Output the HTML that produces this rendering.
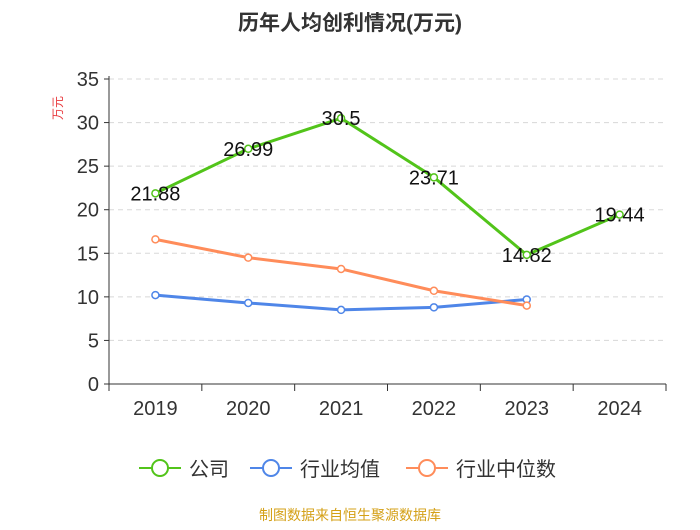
<!DOCTYPE html>
<html><head><meta charset="utf-8"><style>
body{margin:0;background:#fff;font-family:"Liberation Sans","Noto Sans CJK SC",sans-serif}
</style></head><body>
<svg id="c" width="700" height="525" xmlns="http://www.w3.org/2000/svg" font-family="Liberation Sans, Noto Sans CJK SC, sans-serif">
<text x="350" y="30" text-anchor="middle" font-size="21" font-weight="bold" fill="#333">历年人均创利情况(万元)</text>
<text x="62" y="108" font-size="12" fill="#e8363a" transform="rotate(-90 62 108)" text-anchor="middle">万元</text>
<g id="grid"></g><g id="axes"></g><g id="series"></g>
<g>
<g><line x1="139" y1="468" x2="181" y2="468" stroke="#52c41a" stroke-width="2"/><circle cx="160" cy="468" r="8" fill="#fff" stroke="#52c41a" stroke-width="2"/><text x="189" y="476" font-size="20" fill="#333">公司</text></g>
<g><line x1="250" y1="468" x2="292" y2="468" stroke="#4f86e8" stroke-width="2"/><circle cx="271" cy="468" r="8" fill="#fff" stroke="#4f86e8" stroke-width="2"/><text x="300" y="476" font-size="20" fill="#333">行业均值</text></g>
<g><line x1="406" y1="468" x2="448" y2="468" stroke="#ff8c5a" stroke-width="2"/><circle cx="427" cy="468" r="8" fill="#fff" stroke="#ff8c5a" stroke-width="2"/><text x="456" y="476" font-size="20" fill="#333">行业中位数</text></g>
</g>
<text x="350" y="520" text-anchor="middle" font-size="14" fill="#d4a017">制图数据来自恒生聚源数据库</text>
</svg>
<script>
const categories=["2019","2020","2021","2022","2023","2024"];
const company=[21.88,26.99,30.5,23.71,14.82,19.44];
const industryAvg=[10.2,9.3,8.5,8.8,9.7];
const industryMedian=[16.6,14.5,13.2,10.7,9.0];
const yTicks=[0,5,10,15,20,25,30,35];
const L=109,R=666,Y0=384,Y35=79;
const bw=(R-L)/categories.length;
const x=i=>L+bw*(i+0.5);
const y=v=>Y0-(v/35)*(Y0-Y35);
const NS="http://www.w3.org/2000/svg";
function mk(t,a,p){const e=document.createElementNS(NS,t);for(const k in a)e.setAttribute(k,a[k]);p.appendChild(e);return e;}
const grid=document.getElementById('grid'),axes=document.getElementById('axes'),ser=document.getElementById('series');
yTicks.forEach(v=>{
 if(v>0){const g=mk('line',{x1:L,x2:R,y1:y(v),y2:y(v),stroke:'#d8d8d8','stroke-dasharray':'5,4'},grid);
 
 }
 mk('line',{x1:L-5,x2:L,y1:y(v),y2:y(v),stroke:'#333'},axes);
 const t=mk('text',{x:L-10,y:y(v)+7,'text-anchor':'end','font-size':20,fill:'#333'},axes);t.textContent=v;
 
 
});
mk('line',{x1:L,x2:L,y1:Y35-3,y2:Y0,stroke:'#333'},axes);
mk('line',{x1:L,x2:R,y1:Y0,y2:Y0,stroke:'#333'},axes);
for(let i=0;i<=categories.length;i++)mk('line',{x1:L+bw*i,x2:L+bw*i,y1:Y0,y2:Y0+7,stroke:'#333'},axes);
categories.forEach((c,i)=>{const t=mk('text',{x:x(i),y:Y0+31,'text-anchor':'middle','font-size':20,fill:'#333'},axes);t.textContent=c;
 
 });
function series(d,col,name,labels){
 const g=mk('g',{},ser);
 
 
 mk('polyline',{points:d.map((v,i)=>x(i)+','+y(v)).join(' '),fill:'none',stroke:col,'stroke-width':3},g);
 d.forEach((v,i)=>{const c=mk('circle',{cx:x(i),cy:y(v),r:3.5,fill:'#fff',stroke:col,'stroke-width':1.5},g);
  
  
  if(labels){const t=mk('text',{x:x(i),y:y(v)+7,'text-anchor':'middle','font-size':20,fill:'#111'},g);t.textContent=v;
  
  }});
}
series(industryAvg,'#4f86e8','industry-avg-line',false);
series(industryMedian,'#ff8c5a','industry-median-line',false);
series(company,'#52c41a','company-line',true);
</script>
</body></html>
